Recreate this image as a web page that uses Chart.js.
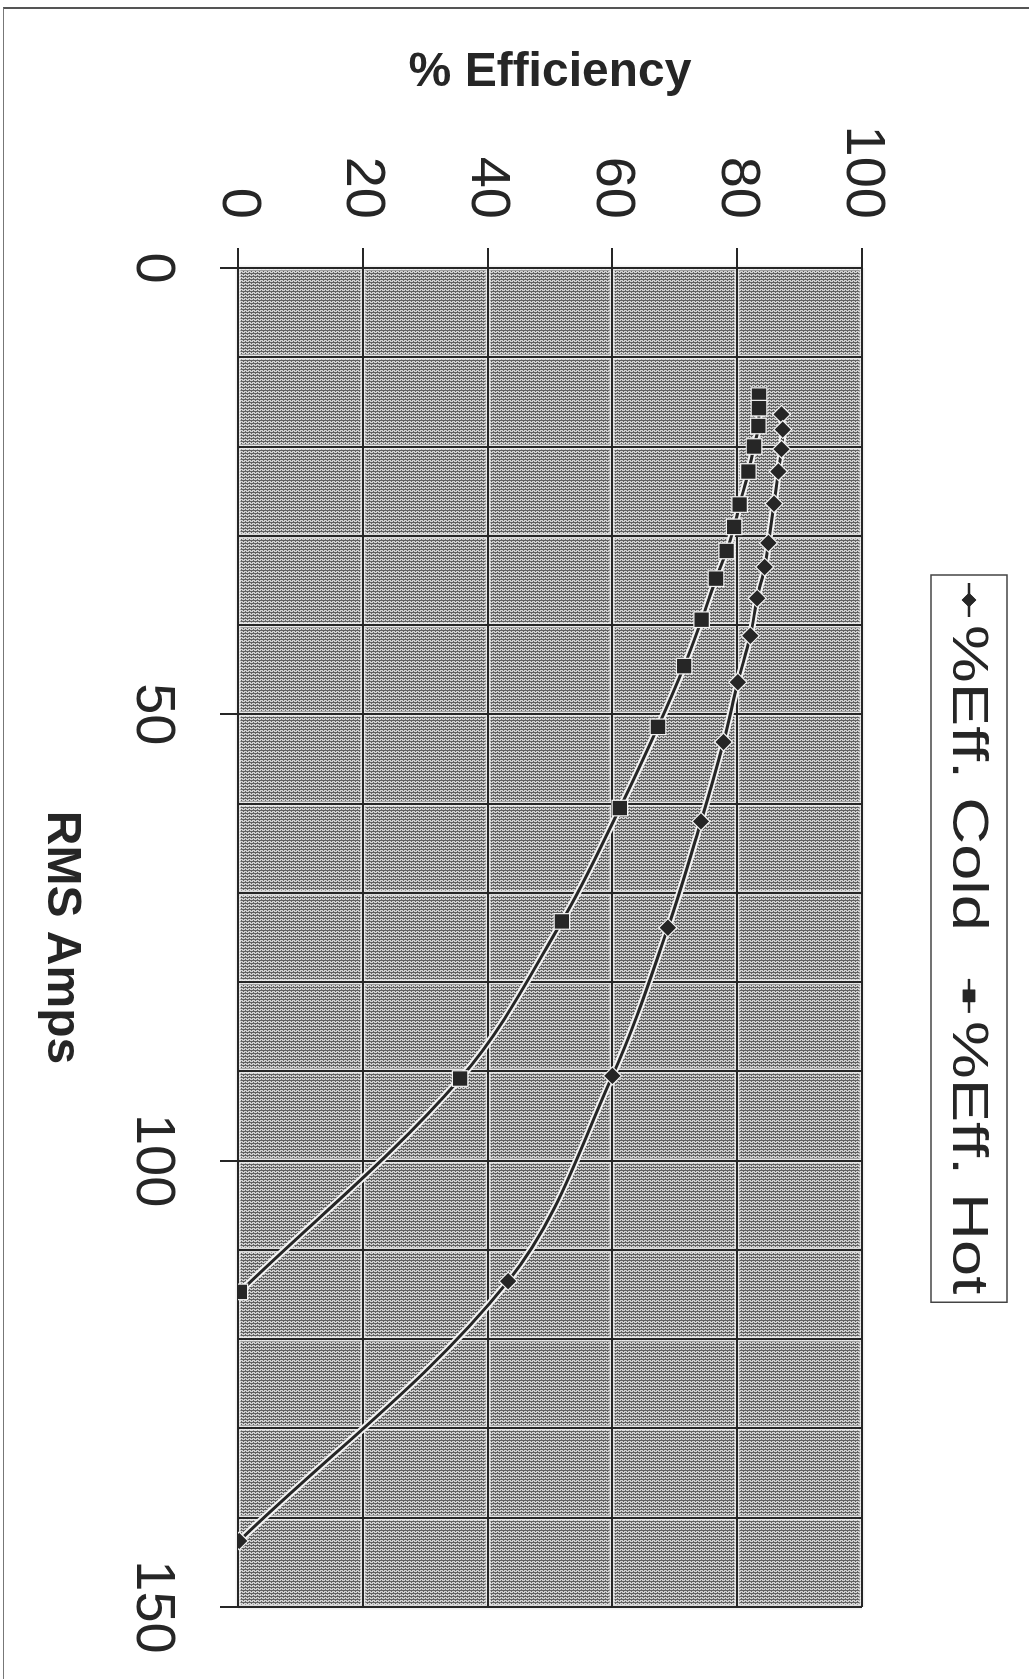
<!DOCTYPE html>
<html>
<head>
<meta charset="utf-8">
<title>% Efficiency</title>
<script src="https://cdn.jsdelivr.net/npm/chart.js@4.4.1/dist/chart.umd.min.js"></script>
<style>
  html, body { margin: 0; padding: 0; background: #fff; overflow: hidden; }
  body { width: 1029px; height: 1679px; position: relative; }
  #frame {
    position: absolute; left: 3px; top: 7px; right: 0; bottom: 0;
    border-top: 2px solid #555; border-left: 1px solid #777;
  }
  /* chart is laid out landscape, then turned a quarter clockwise */
  #turn {
    position: absolute; left: 0; top: 0;
    width: 1679px; height: 1029px;
    transform-origin: 0 0;
    transform: translateX(1029px) rotate(90deg);
  }
</style>
</head>
<body>
<div id="frame"></div>
<div id="turn"><canvas id="chart_efficiency" width="1679" height="1029"></canvas></div>
<script>
// RMS amps / % efficiency, cold and hot
const coldAmps = [16.4, 18.1, 20.3, 22.8, 26.4, 30.8, 33.5, 37.0, 41.2, 46.4, 53.1, 62.0, 73.9, 90.5, 113.5, 142.6];
const coldEff  = [87.1, 87.3, 87.1, 86.6, 85.9, 85.0, 84.4, 83.2, 82.1, 80.1, 77.8, 74.2, 68.9, 60.0, 43.3, 0.2];
const hotAmps  = [14.3, 15.7, 17.7, 20.0, 22.8, 26.5, 29.0, 31.7, 34.8, 39.4, 44.6, 51.4, 60.5, 73.2, 90.8, 114.7];
const hotEff   = [83.5, 83.5, 83.4, 82.7, 81.8, 80.4, 79.5, 78.3, 76.6, 74.3, 71.5, 67.3, 61.2, 51.9, 35.6, 0.3];

const seriesNames = ["%Eff. Cold", "%Eff. Hot"];
const ampTicks = [0, 50, 100, 150];
const effTicks = [0, 20, 40, 60, 80, 100];

const ink = '#262626';
const fontFamily = "'Liberation Sans', Arial, sans-serif";

function toPoints(xs, ys) {
  let pts = [];
  for (var i = 0; i < xs.length; i++) {
    pts.push({x: xs[i], y: ys[i]});
  }
  return pts;
}

// grey halftone-ish fill behind the grid
function makeFillPattern(ctx) {
  let c = document.createElement('canvas');
  c.width = 3; c.height = 4;
  let p = c.getContext('2d');
  p.fillStyle = '#d0d0d0';
  p.fillRect(0, 0, 3, 4);
  p.fillStyle = '#626262';
  p.fillRect(0, 0, 1, 4);
  p.fillRect(1, 1, 1, 1);
  p.fillRect(2, 3, 1, 1);
  return ctx.createPattern(c, 'repeat');
}

const plotBackground = {
  id: 'plotBackground',
  beforeDraw(chart) {
    const {ctx, chartArea, scales} = chart;
    const {left, top, right, bottom} = chartArea;
    ctx.save();
    ctx.fillStyle = makeFillPattern(ctx);
    ctx.fillRect(left, top, right - left, bottom - top);

    // pale edges along each grid line, the dark line lands on top later
    ctx.strokeStyle = 'rgba(240,240,240,0.85)';
    ctx.lineWidth = 5;
    ctx.beginPath();
    scales.x.ticks.forEach((t) => {
      const px = Math.round(scales.x.getPixelForValue(t.value));
      ctx.moveTo(px, top);
      ctx.lineTo(px, bottom);
    });
    scales.y.ticks.forEach((t) => {
      const py = Math.round(scales.y.getPixelForValue(t.value));
      ctx.moveTo(left, py);
      ctx.lineTo(right, py);
    });
    ctx.stroke();
    ctx.restore();
  }
};

// boxed legend: short line with marker, then the name (text drawn a bit wide)
const boxedLegend = {
  id: 'boxedLegend',
  afterDraw(chart, args, opts) {
    const ctx = chart.ctx;
    ctx.save();
    ctx.font = opts.fontSize + 'px ' + fontFamily;
    ctx.textBaseline = 'middle';
    let x = opts.left + opts.padX;
    const cy = (opts.top + opts.bottom) / 2;
    for (var i = 0; i < seriesNames.length; i++) {
      const ds = chart.data.datasets[i];
      ctx.strokeStyle = ink;
      ctx.lineWidth = 2.5;
      ctx.beginPath();
      ctx.moveTo(x, cy);
      ctx.lineTo(x + opts.lineLen, cy);
      ctx.stroke();
      ctx.fillStyle = ink;
      Chart.helpers.drawPoint(ctx, {pointStyle: ds.pointStyle, radius: ds.pointRadius * 0.8, borderWidth: 0}, x + opts.lineLen / 2, cy);
      ctx.fill();
      x += opts.lineLen + opts.gap;
      ctx.save();
      ctx.translate(x, cy + 2);
      ctx.scale(opts.stretch, 1);
      ctx.fillText(seriesNames[i], 0, 0);
      ctx.restore();
      x += ctx.measureText(seriesNames[i]).width * opts.stretch + opts.itemGap;
    }
    const right = x - opts.itemGap + opts.padX;
    ctx.strokeStyle = '#444';
    ctx.lineWidth = 1.5;
    ctx.strokeRect(opts.left, opts.top, right - opts.left, opts.bottom - opts.top);
    ctx.restore();
  }
};

function seriesDataset(label, amps, effs, style, radius) {
  return {
    label: label,
    data: toPoints(amps, effs),
    borderColor: ink,
    borderWidth: 3,
    tension: 0.35,
    pointStyle: style,
    pointRadius: radius,
    pointBackgroundColor: ink,
    pointBorderColor: '#f2f2f2',
    pointBorderWidth: 1.2
  };
}

function haloDataset(amps, effs) {
  return {
    label: '',
    data: toPoints(amps, effs),
    borderColor: '#f4f4f4',
    borderWidth: 7,
    tension: 0.35,
    pointRadius: 0
  };
}

new Chart(document.getElementById("chart_efficiency"), {
  type: 'line',
  data: {
    datasets: [
      seriesDataset(seriesNames[0], coldAmps, coldEff, 'rectRot', 9),
      seriesDataset(seriesNames[1], hotAmps, hotEff, 'rect', 11),
      haloDataset(coldAmps, coldEff),
      haloDataset(hotAmps, hotEff)
    ]
  },
  plugins: [plotBackground, boxedLegend],
  options: {
    responsive: false,
    animation: false,
    layout: { padding: { top: 167, right: 72, bottom: 0, left: 0 } },
    plugins: {
      legend: { display: false },
      tooltip: { enabled: false },
      boxedLegend: { left: 575, top: 22, bottom: 98, padX: 8, lineLen: 34, gap: 8, itemGap: 48, fontSize: 50, stretch: 1.3 }
    },
    scales: {
      x: {
        type: 'linear',
        min: 0,
        max: 150,
        afterFit(scale) {
          scale.height = 238;
          // end labels may hang past the plot; the outer padding already leaves room
          scale.paddingLeft = 0;
          scale.paddingRight = 0;
        },
        afterBuildTicks(scale) {
          let t = [];
          for (var v = 0; v <= 150; v += 10) t.push({value: v});
          scale.ticks = t;
        },
        ticks: {
          autoSkip: false,
          maxRotation: 0,
          minRotation: 0,
          padding: 34,
          color: ink,
          font: { family: fontFamily, size: 56 },
          callback: (v) => ampTicks.includes(v) ? String(v) : ''
        },
        grid: {
          color: ink,
          lineWidth: 2,
          tickLength: 18,
          tickColor: (c) => (c.tick && ampTicks.includes(c.tick.value)) ? ink : 'rgba(0,0,0,0)'
        },
        border: { color: ink, width: 2 },
        title: {
          display: true,
          text: 'RMS Amps',
          color: ink,
          font: { family: fontFamily, size: 48, weight: 'bold' },
          padding: { top: 0, bottom: 32 }
        }
      },
      y: {
        min: 0,
        max: 100,
        afterFit(scale) { scale.width = 268; },
        afterBuildTicks(scale) {
          scale.ticks = effTicks.map((v) => ({value: v}));
        },
        ticks: {
          padding: 29,
          color: ink,
          font: { family: fontFamily, size: 56 }
        },
        grid: { color: ink, lineWidth: 2, tickLength: 20 },
        border: { color: ink, width: 2 },
        title: {
          display: true,
          text: '% Efficiency',
          color: ink,
          font: { family: fontFamily, size: 48, weight: 'bold' },
          padding: { top: 44, bottom: 0 }
        }
      }
    }
  }
});
</script>
</body>
</html>
